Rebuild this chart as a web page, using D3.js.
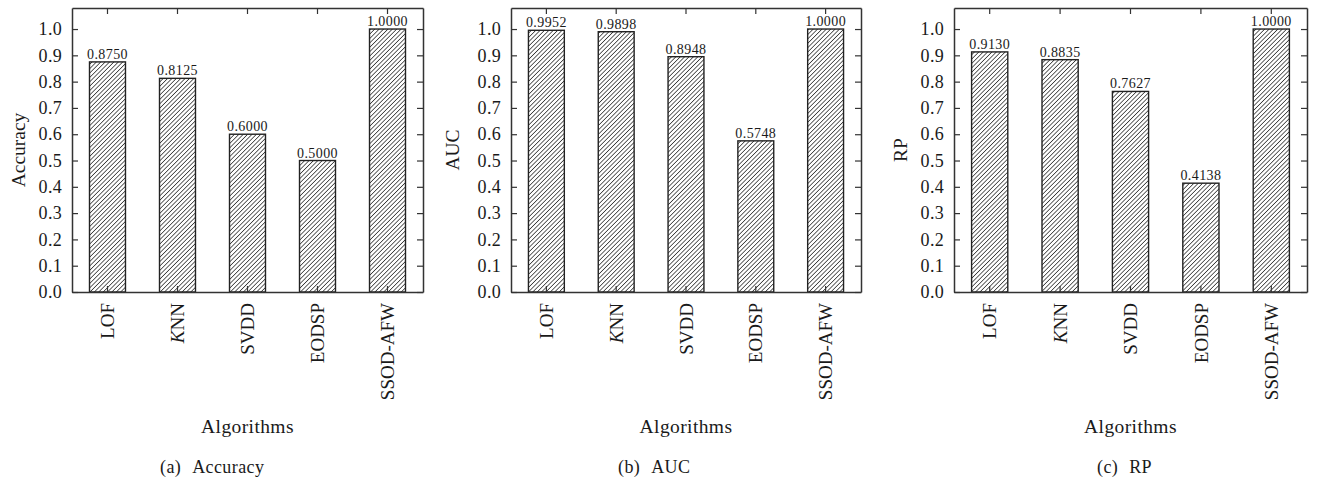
<!DOCTYPE html>
<html>
<head>
<meta charset="utf-8">
<script src="https://cdn.jsdelivr.net/npm/d3@7"></script>
<style>
  body { margin: 0; background: #fff; }
  svg text { font-family: "Liberation Serif", "DejaVu Serif", serif; fill: #1a1a1a; }
  .axis line, .axis path { stroke: #333; }
</style>
</head>
<body>
<svg id="chart" width="1317" height="481"></svg>
<script>
// categories and values
var algorithms = ["LOF", "KNN", "SVDD", "EODSP", "SSOD-AFW"]
var accuracyValues = [0.8750, 0.8125, 0.6000, 0.5000, 1.0000]
var aucValues = [0.9952, 0.9898, 0.8948, 0.5748, 1.0000]
var rpValues = [0.9130, 0.8835, 0.7627, 0.4138, 1.0000]
var yTicks = [0.0, 0.1, 0.2, 0.3, 0.4, 0.5, 0.6, 0.7, 0.8, 0.9, 1.0]
var panelNames = ["Accuracy", "AUC", "RP"]
var captionTags = ["(a)", "(b)", "(c)"]

// layout numbers for each panel
var Panels = [
  { left: 72,  right: 423,  ylab: 18,  cap: 160,  values: accuracyValues },
  { left: 511, right: 861,  ylab: 452, cap: 618,  values: aucValues },
  { left: 954, right: 1307, ylab: 900, cap: 1097, values: rpValues }
]
var plotTop = 8
var plotBottom = 292

var svg = d3.select("#chart")

// diagonal hatch used by all bars
svg.append("defs").append("pattern")
  .attr("id", "hatch")
  .attr("patternUnits", "userSpaceOnUse")
  .attr("width", 3.1)
  .attr("height", 3.1)
  .attr("patternTransform", "rotate(45)")
  .append("line")
  .attr("x1", 0).attr("y1", 0)
  .attr("x2", 0).attr("y2", 3.1)
  .attr("stroke", "#222")
  .attr("stroke-width", 1.4)

Panels.forEach(function(p, k) { drawPanel(p, k) })

function drawPanel(p, k) {
  let g = svg.append("g")

  let x = d3.scaleBand()
    .domain(algorithms)
    .range([p.left, p.right])
    .paddingInner(0.486)
    .paddingOuter(0.25)

  let y = d3.scaleLinear()
    .domain([0, 1.08])
    .range([plotBottom, plotTop])

  let center = function(d) { return x(d) + x.bandwidth() / 2 }

  // bars
  g.selectAll("rect.bar")
    .data(p.values)
    .enter()
    .append("rect")
    .attr("class", "bar")
    .attr("x", function(d, i) { return x(algorithms[i]) })
    .attr("y", function(d) { return y(d) })
    .attr("width", x.bandwidth())
    .attr("height", function(d) { return y(0) - y(d) })
    .attr("fill", "url(#hatch)")
    .attr("stroke", "#222")
    .attr("stroke-width", 1.4)

  // value labels over the bars
  g.selectAll("text.val")
    .data(p.values)
    .enter()
    .append("text")
    .attr("class", "val")
    .attr("x", function(d, i) { return center(algorithms[i]) })
    .attr("y", function(d) { return y(d) - 3 })
    .attr("text-anchor", "middle")
    .style("font-size", "14px")
    .style("letter-spacing", "0.4px")
    .text(function(d) { return d.toFixed(4) })

  // left axis, ticks inward
  g.append("g")
    .attr("class", "axis")
    .attr("transform", "translate(" + p.left + ",0)")
    .call(d3.axisLeft(y).tickValues(yTicks).tickSize(0).tickPadding(10)
      .tickFormat(d3.format(".1f")))
    .call(function(a) {
      a.select(".domain").attr("stroke-width", 1.5)
      a.selectAll(".tick line").attr("x2", 6).attr("stroke-width", 1.2)
      a.selectAll(".tick text").style("font-size", "18px").style("letter-spacing", "0.3px")
    })

  // right axis, ticks inward, no labels
  g.append("g")
    .attr("class", "axis")
    .attr("transform", "translate(" + p.right + ",0)")
    .call(d3.axisRight(y).tickValues(yTicks).tickSize(0).tickFormat(""))
    .call(function(a) {
      a.select(".domain").attr("stroke-width", 1.5)
      a.selectAll(".tick line").attr("x2", -6).attr("stroke-width", 1.2)
    })

  // top axis, ticks downward at bar centres
  g.append("g")
    .attr("class", "axis")
    .attr("transform", "translate(0," + plotTop + ")")
    .call(d3.axisTop(x).tickSize(0).tickFormat(""))
    .call(function(a) {
      a.select(".domain").attr("stroke-width", 1.5)
      a.selectAll(".tick line").attr("y2", 6).attr("stroke-width", 1.2)
    })

  // bottom axis with rotated category names
  let xb = g.append("g")
    .attr("class", "axis")
    .attr("transform", "translate(0," + plotBottom + ")")
    .call(d3.axisBottom(x).tickSize(0).tickFormat(""))

  xb.select(".domain").attr("stroke-width", 1.5)
  xb.selectAll(".tick line").attr("y2", -6).attr("stroke-width", 1.2)

  let names = xb.selectAll(".tick")
    .append("text")
    .attr("transform", "rotate(-90)")
    .attr("x", -11)
    .attr("y", 0)
    .attr("dy", "0.35em")
    .attr("text-anchor", "end")
    .style("font-size", "19px")

  names.each(function(d) {
    let t = d3.select(this)
    if (d == "KNN") {
      t.append("tspan").style("font-style", "italic").text("K")
      t.append("tspan").text("NN")
    } else {
      t.text(d)
    }
  })

  // axis titles and caption
  svg.append("text")
    .attr("transform", "translate(" + p.ylab + "," + ((plotTop + plotBottom) / 2) + ") rotate(-90)")
    .attr("text-anchor", "middle")
    .attr("dy", "0.35em")
    .style("font-size", "19.5px")
    .text(panelNames[k])

  svg.append("text")
    .attr("x", (p.left + p.right) / 2)
    .attr("y", 433)
    .attr("text-anchor", "middle")
    .style("font-size", "19.5px")
    .style("letter-spacing", "0.4px")
    .text("Algorithms")

  let cap = svg.append("text")
    .attr("x", p.cap)
    .attr("y", 473)
    .style("font-size", "18px")
    .style("letter-spacing", "0.4px")
  cap.append("tspan").text(captionTags[k])
  cap.append("tspan").attr("dx", 11).text(panelNames[k])
}
</script>
</body>
</html>
